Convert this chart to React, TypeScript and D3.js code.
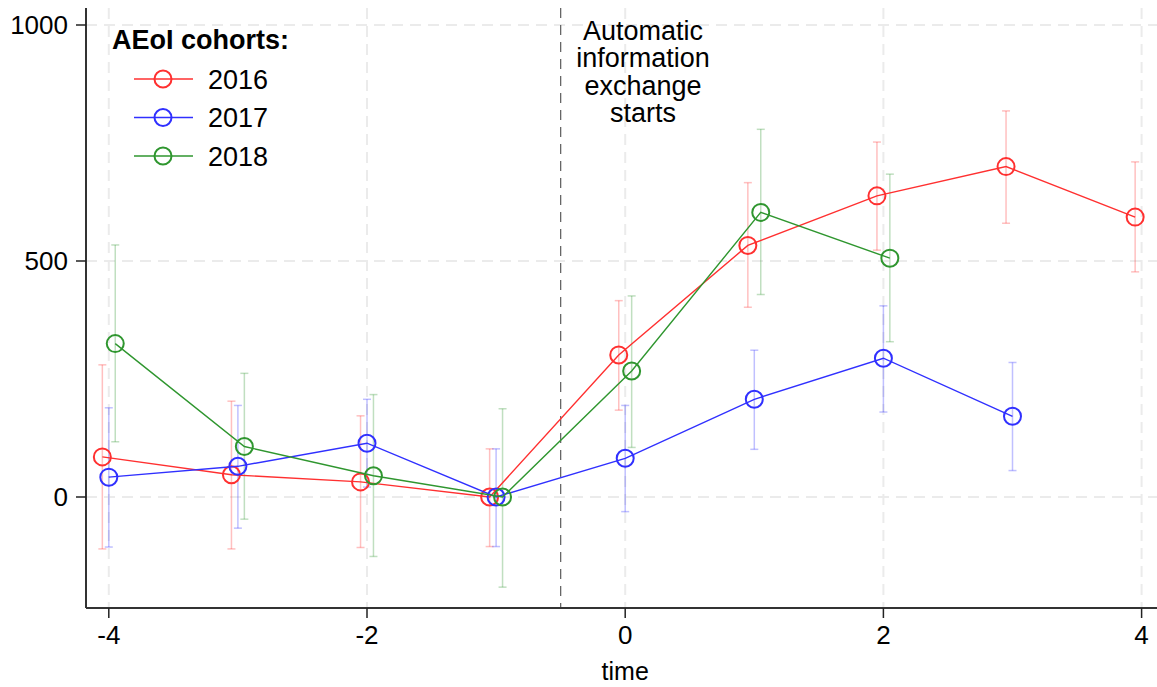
import React, { useEffect, useRef } from "react";
import * as d3 from "d3";

const times = [-4, -3, -2, -1, 0, 1, 2, 3, 4];
const cohorts = ["2016", "2017", "2018"];
const colors = ["#ff3030", "#3030ff", "#2f962f"];
const offsets = [-0.05, 0, 0.05];

// point estimates per cohort
const est2016 = [85, 47, 32, 0, 301, 533, 638, 700, 593];
const est2017 = [42, 65, 114, 0, 82, 207, 294, 171];
const est2018 = [325, 107, 45, 0, 267, 603, 506];

// confidence intervals
const lo2016 = [-110, -110, -107, -105, 184, 402, 523, 580, 477];
const hi2016 = [280, 203, 172, 102, 416, 666, 752, 818, 710];
const lo2017 = [-106, -66, 21, -105, -31, 101, 180, 56];
const hi2017 = [189, 194, 207, 102, 194, 311, 405, 285];
const lo2018 = [117, -47, -126, -191, 105, 429, 329];
const hi2018 = [534, 262, 217, 187, 426, 779, 684];

const xTicks = [-4, -2, 0, 2, 4];
const yTicks = [0, 500, 1000];
const noteLines = ["Automatic", "information", "exchange", "starts"];

const FONT = "'Liberation Sans', Arial, Helvetica, sans-serif";

const App = () => {
  const ref = useRef(null);

  useEffect(() => {
    const width = 1157;
    const height = 687;
    const svg = d3.select(ref.current).attr("width", width).attr("height", height);
    svg.selectAll("*").remove();

    const x = d3.scaleLinear().domain([-4, 4]).range([108.8, 1141.6]);
    const y = d3.scaleLinear().domain([0, 1000]).range([497, 25]);
    const left = 86;
    const bottom = 608;
    const top = 8;

    // grid
    const grid = svg.append("g");
    yTicks.forEach((t) => {
      grid.append("line")
        .attr("x1", left).attr("x2", width)
        .attr("y1", y(t)).attr("y2", y(t))
        .attr("stroke", "#ebebeb").attr("stroke-width", 2)
        .attr("stroke-dasharray", "11,7");
    });
    xTicks.forEach((t) => {
      grid.append("line")
        .attr("x1", x(t)).attr("x2", x(t))
        .attr("y1", top).attr("y2", bottom)
        .attr("stroke", "#ebebeb").attr("stroke-width", 2)
        .attr("stroke-dasharray", "11,7");
    });

    // event line
    svg.append("line")
      .attr("x1", x(-0.5)).attr("x2", x(-0.5))
      .attr("y1", top).attr("y2", bottom)
      .attr("stroke", "#666").attr("stroke-width", 1.3)
      .attr("stroke-dasharray", "10,7");

    const series = [
      { est: est2016, lo: lo2016, hi: hi2016 },
      { est: est2017, lo: lo2017, hi: hi2017 },
      { est: est2018, lo: lo2018, hi: hi2018 },
    ];

    // error bars
    series.forEach((s, i) => {
      const g = svg.append("g")
        .attr("stroke", colors[i]).attr("stroke-opacity", 0.3).attr("stroke-width", 1.5);
      s.est.forEach((_, j) => {
        const cx = x(times[j] + offsets[i]);
        g.append("line").attr("x1", cx).attr("x2", cx).attr("y1", y(s.lo[j])).attr("y2", y(s.hi[j]));
        g.append("line").attr("x1", cx - 4).attr("x2", cx + 4).attr("y1", y(s.lo[j])).attr("y2", y(s.lo[j]));
        g.append("line").attr("x1", cx - 4).attr("x2", cx + 4).attr("y1", y(s.hi[j])).attr("y2", y(s.hi[j]));
      });
    });

    // lines and markers
    const line = d3.line()
      .x((d) => d[0])
      .y((d) => d[1]);
    series.forEach((s, i) => {
      const pts = s.est.map((v, j) => [x(times[j] + offsets[i]), y(v)]);
      svg.append("path")
        .attr("d", line(pts))
        .attr("fill", "none")
        .attr("stroke", colors[i])
        .attr("stroke-width", 1.4);
      svg.append("g").selectAll("circle")
        .data(pts)
        .enter()
        .append("circle")
        .attr("cx", (d) => d[0])
        .attr("cy", (d) => d[1])
        .attr("r", 8.5)
        .attr("fill", "none")
        .attr("stroke", colors[i])
        .attr("stroke-width", 2);
    });

    // axes
    svg.append("line")
      .attr("x1", left).attr("x2", left).attr("y1", top).attr("y2", bottom)
      .attr("stroke", "#333").attr("stroke-width", 2);
    svg.append("line")
      .attr("x1", left).attr("x2", width).attr("y1", bottom).attr("y2", bottom)
      .attr("stroke", "#333").attr("stroke-width", 2);

    yTicks.forEach((t) => {
      svg.append("line")
        .attr("x1", left - 10).attr("x2", left).attr("y1", y(t)).attr("y2", y(t))
        .attr("stroke", "#222").attr("stroke-width", 1.5);
      svg.append("text")
        .attr("x", left - 18).attr("y", y(t))
        .attr("dy", "0.34em")
        .attr("text-anchor", "end")
        .style("font-family", FONT).style("font-size", "26px")
        .text(t);
    });
    xTicks.forEach((t) => {
      svg.append("line")
        .attr("x1", x(t)).attr("x2", x(t)).attr("y1", bottom).attr("y2", bottom + 10)
        .attr("stroke", "#222").attr("stroke-width", 1.5);
      svg.append("text")
        .attr("x", x(t)).attr("y", 644)
        .attr("text-anchor", "middle")
        .style("font-family", FONT).style("font-size", "26px")
        .text(t);
    });
    svg.append("text")
      .attr("x", x(0)).attr("y", 680)
      .attr("text-anchor", "middle")
      .style("font-family", FONT).style("font-size", "25px")
      .text("time");

    // annotation
    noteLines.forEach((l, i) => {
      svg.append("text")
        .attr("x", 643).attr("y", 39.5 + i * 27.5)
        .attr("text-anchor", "middle")
        .style("font-family", FONT).style("font-size", "27px")
        .text(l);
    });

    // legend
    svg.append("text")
      .attr("x", 112).attr("y", 49)
      .style("font-family", FONT).style("font-size", "27px").style("font-weight", "bold")
      .text("AEoI cohorts:");
    cohorts.forEach((c, i) => {
      const ly = 79 + i * 38.5;
      svg.append("line")
        .attr("x1", 134).attr("x2", 193).attr("y1", ly).attr("y2", ly)
        .attr("stroke", colors[i]).attr("stroke-width", 1.4);
      svg.append("circle")
        .attr("cx", 163).attr("cy", ly).attr("r", 8.5)
        .attr("fill", "none").attr("stroke", colors[i]).attr("stroke-width", 2);
      svg.append("text")
        .attr("x", 208).attr("y", ly)
        .attr("dy", "0.36em")
        .style("font-family", FONT).style("font-size", "27px")
        .text(c);
    });
  }, []);

  return (
    <svg
      ref={ref}
      style={{ position: "absolute", left: 0, top: 0, background: "#fff" }}
    ></svg>
  );
};

export default App;
